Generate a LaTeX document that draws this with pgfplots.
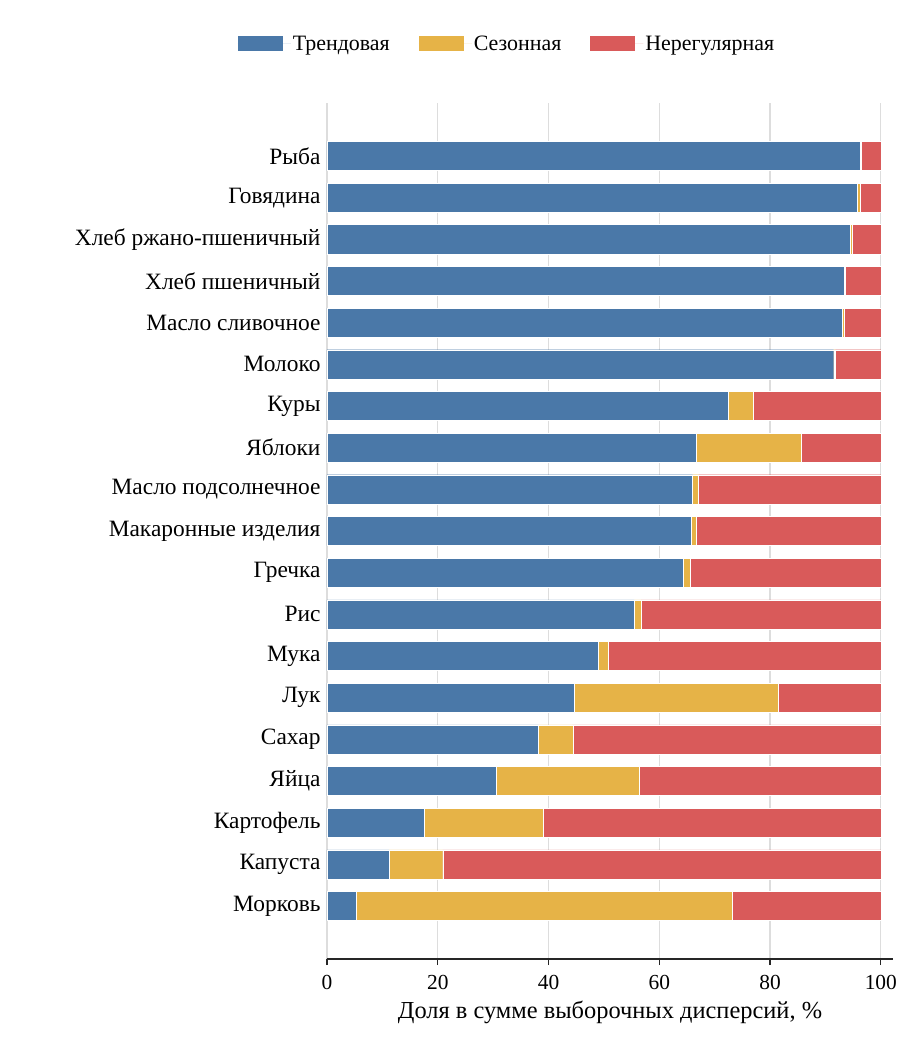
\documentclass[border=0pt]{standalone}
\usepackage{fontspec}
\setmainfont{Liberation Serif}
\usepackage{pgfplots}
\usepackage{pgfplotstable}
\pgfplotsset{compat=1.18}
\definecolor{cTrend}{HTML}{4A78A8}
\definecolor{cSeas}{HTML}{E6B347}
\definecolor{cIrr}{HTML}{D95A5A}
\definecolor{cGrid}{HTML}{DDDDDD}
\pgfplotstableread[col sep=comma]{
y,trend,seas,irr
0,96.2,0.3,3.5
1,95.7,0.5,3.8
2,94.5,0.3,5.2
3,93.4,0.2,6.4
4,93.1,0.3,6.6
5,91.5,0.3,8.2
6,72.5,4.4,23.1
7,66.6,19.0,14.4
8,66.0,1.1,32.9
9,65.7,0.9,33.4
10,64.4,1.2,34.4
11,55.5,1.2,43.3
12,48.9,1.9,49.2
13,44.6,36.9,18.5
14,38.2,6.2,55.6
15,30.5,25.8,43.7
16,17.6,21.5,60.9
17,11.2,9.7,79.1
18,5.2,67.9,26.9
}\datatable
\begin{document}
\begin{tikzpicture}
\useasboundingbox (-327bp,-78bp) rectangle (580bp,959bp);
\begin{axis}[
  at={(0,0)}, anchor=south west,
  scale only axis,
  width=566bp, height=856bp,
  xbar stacked,
  bar width=0.7,
  xmin=0, xmax=102.2,
  ymin=-1.27, ymax=19.27,
  y dir=reverse,
  ytick={0,...,18},
  yticklabels={Рыба,Говядина,Хлеб ржано-пшеничный,Хлеб пшеничный,Масло сливочное,Молоко,Куры,Яблоки,Масло подсолнечное,Макаронные изделия,Гречка,Рис,Мука,Лук,Сахар,Яйца,Картофель,Капуста,Морковь},
  y tick style={draw=none},
  xtick={0,20,...,100},
  axis x line*=bottom,
  axis y line*=left,
  y axis line style={draw=none},
  x axis line style={draw=black!85, line width=1.3bp, -},
  x tick style={draw=black!85, line width=1.3bp},
  major tick length=6bp,
  tick align=outside,
  xmajorgrids,
  grid style={draw=cGrid, line width=1.2bp},
  xticklabel style={font=\fontsize{21.5}{24}\selectfont, yshift=-7bp},
  yticklabel style={font=\fontsize{23.5}{26}\selectfont, xshift=3bp},
  /pgf/number format/assume math mode=true,
  xlabel={Доля в сумме выборочных дисперсий, \%},
  xlabel style={font=\fontsize{24.5}{28}\selectfont, yshift=-4bp},
  legend columns=3,
  legend style={at={(0.318,1.069)}, anchor=center, draw=none, font=\fontsize{22}{26}\selectfont,
    /tikz/every even column/.append style={column sep=27bp}},
  legend image code/.code={\fill[#1, draw=none] (0bp,-7.5bp) rectangle (45bp,7.5bp); \path[draw=none] (0bp,0bp) -- (53bp,0bp);},
  legend cell align=left,
]
\addplot[fill=cTrend, draw=white, line width=0.4bp] table[x=trend,y=y]{\datatable};
\addplot[fill=cSeas, draw=white, line width=0.4bp] table[x=seas,y=y]{\datatable};
\addplot[fill=cIrr, draw=white, line width=0.4bp] table[x=irr,y=y]{\datatable};
\legend{Трендовая,Сезонная,Нерегулярная}
\end{axis}
\end{tikzpicture}
\end{document}
